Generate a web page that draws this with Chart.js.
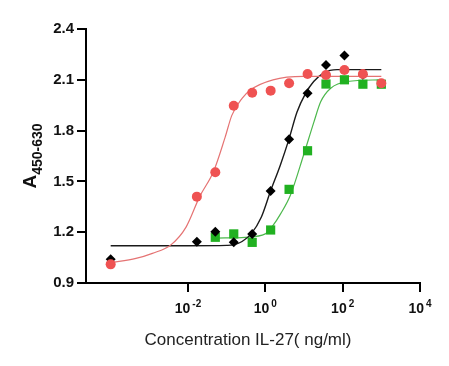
<!DOCTYPE html>
<html>
<head>
<meta charset="utf-8">
<script src="https://cdn.jsdelivr.net/npm/chart.js@4/dist/chart.umd.min.js"></script>
<style>
  html, body { margin: 0; padding: 0; background: #fff; }
</style>
</head>
<body>
<canvas id="chart" width="449" height="366"></canvas>
<script>
'use strict';

// measured points (concentration in ng/ml, 3-fold dilution + one blank-ish point)
var conc = [1000, 333.3, 111.1, 37.04, 12.35, 4.115, 1.372, 0.4572, 0.1524, 0.0508, 0.01694, 0.0001];
var redValues = [2.08, 2.134, 2.158, 2.128, 2.134, 2.08, 2.036, 2.024, 1.947, 1.554, 1.41, 1.01];
var blackValues = [null, 2.13, 2.243, 2.187, 2.02, 1.749, 1.443, 1.19, 1.14, 1.203, 1.144, 1.04];
var greenValues = [2.074, 2.074, 2.10, 2.075, 1.681, 1.453, 1.213, 1.14, 1.19, 1.17, null, null];

// fitted curves
var redCurveX = [0.0001, 0.00045, 0.0012, 0.0036, 0.0089, 0.020, 0.046, 0.091, 0.136, 0.25, 0.41, 1.58, 10, 100, 1000];
var redCurveY = [1.02, 1.045, 1.075, 1.125, 1.23, 1.41, 1.56, 1.76, 1.89, 1.99, 2.04, 2.10, 2.12, 2.12, 2.12];
var blackCurveX = [0.0001, 0.01, 0.1, 0.148, 0.25, 0.43, 0.79, 1.35, 2.45, 4.03, 6.6, 11, 17.8, 32, 72, 1000];
var blackCurveY = [1.12, 1.12, 1.122, 1.125, 1.145, 1.19, 1.29, 1.44, 1.597, 1.745, 1.91, 2.02, 2.09, 2.14, 2.16, 2.16];
var greenCurveX = [0.055, 0.3, 1.0, 1.5, 2.5, 4.47, 9.9, 18, 27, 49, 132, 1000];
var greenCurveY = [1.165, 1.17, 1.19, 1.233, 1.31, 1.42, 1.66, 1.85, 1.97, 2.05, 2.09, 2.10];

var xTickPowers = [-2, 0, 2, 4];
var yTicks = [0.9, 1.2, 1.5, 1.8, 2.1, 2.4];

var fontFamily = "Arial, 'Liberation Sans', sans-serif";

function toPoints(xs, ys) {
  var out = [];
  for (var i = 0; i < xs.length; i++) {
    if (ys[i] !== null) {
      out.push({ x: xs[i], y: ys[i] });
    }
  }
  return out;
}

function pointSet(values, style, radius, color, order) {
  return {
    data: toPoints(conc, values),
    showLine: false,
    pointStyle: style,
    pointRadius: radius,
    pointBackgroundColor: color,
    pointBorderColor: color,
    pointBorderWidth: 0,
    order: order
  };
}

function curveSet(xs, ys, color, width, order) {
  return {
    data: toPoints(xs, ys),
    showLine: true,
    borderColor: color,
    borderWidth: width,
    pointRadius: 0,
    cubicInterpolationMode: 'monotone',
    order: order
  };
}

// superscript tick labels, the subscripted y title and the x title
var textPlugin = {
  id: 'texts',
  afterDraw: function (chart) {
    var ctx = chart.ctx;
    var xScale = chart.scales.x;
    ctx.save();
    ctx.fillStyle = '#111';
    ctx.textAlign = 'left';
    ctx.textBaseline = 'alphabetic';
    for (var i = 0; i < xTickPowers.length; i++) {
      var px = xScale.getPixelForValue(Math.pow(10, xTickPowers[i]));
      var exp = String(xTickPowers[i]);
      ctx.font = 'bold 14px ' + fontFamily;
      var w1 = ctx.measureText('10').width;
      ctx.font = 'bold 10px ' + fontFamily;
      var w2 = ctx.measureText(exp).width;
      var left = px - (w1 + 2 + w2) / 2;
      ctx.font = 'bold 14px ' + fontFamily;
      ctx.fillText('10', left, xScale.top + 30);
      ctx.font = 'bold 10px ' + fontFamily;
      ctx.fillText(exp, left + w1 + 2, xScale.top + 24);
    }

    ctx.fillStyle = '#222';
    ctx.textAlign = 'center';
    ctx.font = '17px ' + fontFamily;
    ctx.fillText('Concentration IL-27( ng/ml)', (xScale.left + xScale.right) / 2 - 5, xScale.top + 62);

    var area = chart.chartArea;
    var mid = (area.top + area.bottom) / 2;
    ctx.fillStyle = '#111';
    ctx.textAlign = 'left';
    ctx.font = 'bold 19px ' + fontFamily;
    var wa = ctx.measureText('A').width;
    ctx.font = 'bold 14px ' + fontFamily;
    var ws = ctx.measureText('450-630').width;
    ctx.translate(36, mid + (wa + ws) / 2);
    ctx.rotate(-Math.PI / 2);
    ctx.font = 'bold 19px ' + fontFamily;
    ctx.fillText('A', 0, 0);
    ctx.font = 'bold 14px ' + fontFamily;
    ctx.fillText('450-630', wa, 6);
    ctx.restore();
  }
};

var ctx = document.getElementById('chart').getContext('2d');

var chart = new Chart(ctx, {
  type: 'scatter',
  data: {
    datasets: [
      pointSet(redValues, 'circle', 5, '#ef5252', 0),
      pointSet(blackValues, 'rectRot', 5, '#000000', 1),
      pointSet(greenValues, 'rect', 6.5, '#21b121', 2),
      curveSet(redCurveX, redCurveY, '#e57373', 1.2, 3),
      curveSet(blackCurveX, blackCurveY, '#1a1a1a', 1.4, 4),
      curveSet(greenCurveX, greenCurveY, '#4cb84c', 1.2, 5)
    ]
  },
  options: {
    responsive: false,
    animation: false,
    devicePixelRatio: 1,
    layout: { padding: { top: 29, right: 29, left: 0, bottom: 0 } },
    plugins: {
      legend: { display: false },
      tooltip: { enabled: false }
    },
    scales: {
      x: {
        type: 'logarithmic',
        min: 2.3e-5,
        max: 10000,
        afterBuildTicks: function (scale) {
          scale.ticks = xTickPowers.map(function (p) { return { value: Math.pow(10, p) }; });
        },
        afterFit: function (scale) { scale.height = 83; },
        ticks: { callback: function () { return ''; } },
        grid: { drawOnChartArea: false, drawTicks: true, tickLength: 9, color: '#000', lineWidth: 2 },
        border: { color: '#000', width: 2 }
      },
      y: {
        min: 0.9,
        max: 2.4,
        afterBuildTicks: function (scale) {
          scale.ticks = yTicks.map(function (v) { return { value: v }; });
        },
        afterFit: function (scale) { scale.width = 86; },
        ticks: {
          padding: 3,
          color: '#111',
          font: { size: 15, weight: 'bold', family: fontFamily },
          callback: function (v) { return v.toFixed(1); }
        },
        grid: { drawOnChartArea: false, drawTicks: true, tickLength: 9, color: '#000', lineWidth: 2 },
        border: { color: '#000', width: 2 }
      }
    }
  },
  plugins: [textPlugin]
});
</script>
</body>
</html>
